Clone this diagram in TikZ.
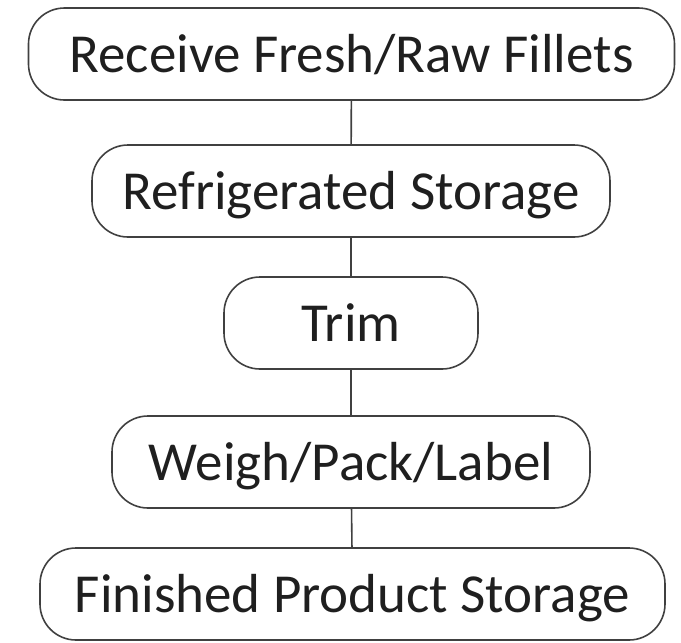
\documentclass[tikz,border=0pt]{standalone}
\usepackage{fontspec}
\setmainfont{Carlito}
\begin{document}
\begin{tikzpicture}[x=1pt,y=-1pt,
  stage/.style={draw=black!75, line width=1.6pt, rounded corners=36pt,
    minimum height=92pt, inner sep=0pt, text=black!88,
    text height=36pt, text depth=0pt,
    font=\fontsize{55}{55}\selectfont},
  link/.style={draw=black!75, line width=1.6pt}]
  \useasboundingbox (0,0) rectangle (681,643);
  \node[stage, minimum width=646pt] (receive) at (351.5,54) {Receive Fresh/Raw Fillets};
  \node[stage, minimum width=518pt] (fridge) at (351,191) {Refrigerated Storage};
  \node[stage, minimum width=254pt] (trim) at (351,323) {Trim};
  \node[stage, minimum width=478pt] (pack) at (351,462) {Weigh/Pack/Label};
  \node[stage, minimum width=625pt] (store) at (352.5,594) {Finished Product Storage};
  \draw[link] (receive) -- (fridge);
  \draw[link] (fridge) -- (trim);
  \draw[link] (trim) -- (pack);
  \draw[link] (pack) -- (store);
\end{tikzpicture}
\end{document}
